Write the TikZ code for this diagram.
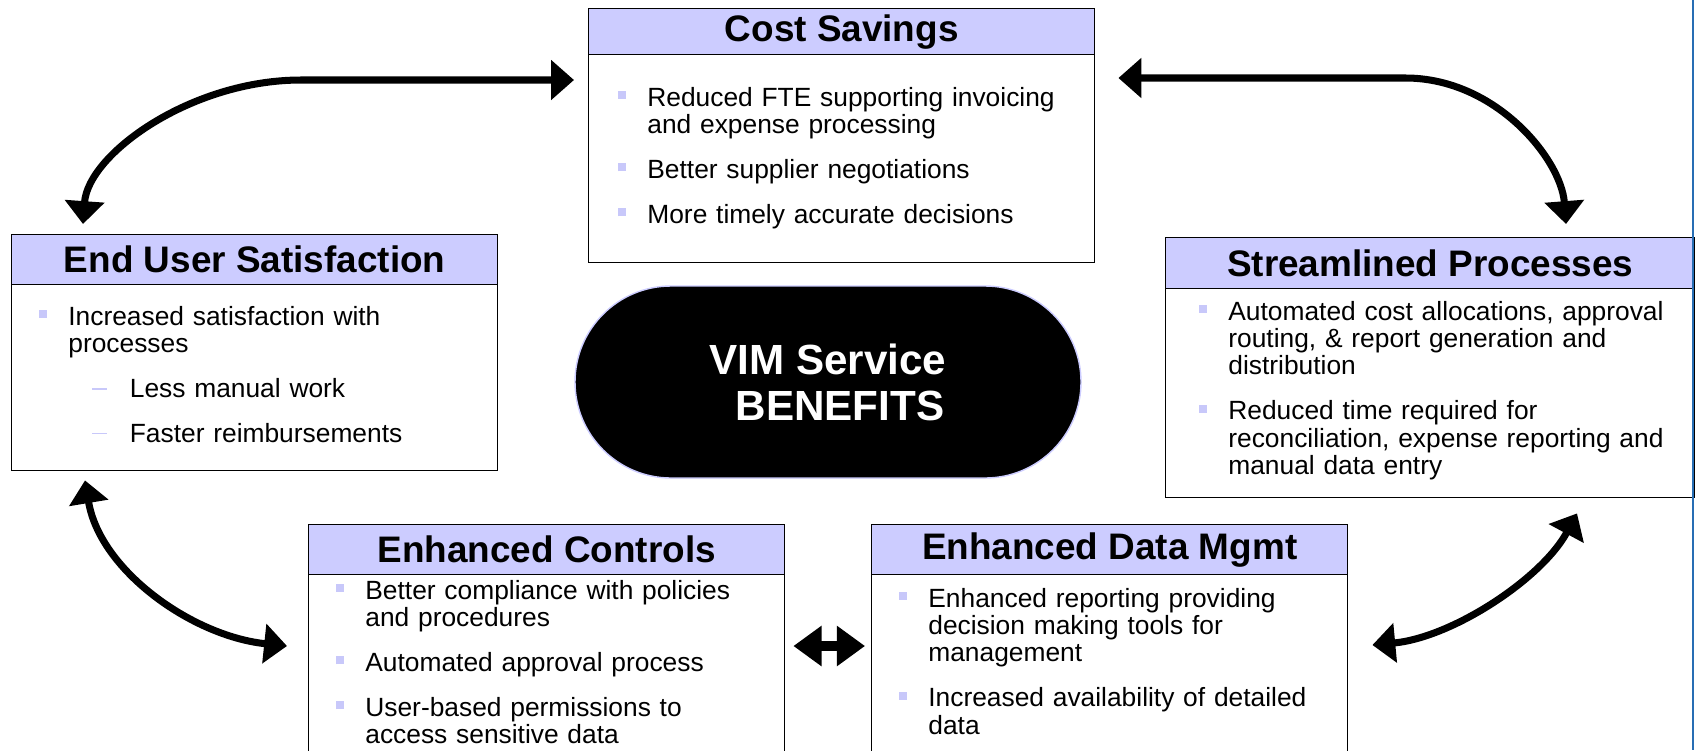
\documentclass[tikz,border=0pt]{standalone}
\usepackage{fontspec}
\setmainfont{Liberation Sans}
\usetikzlibrary{arrows.meta}

\definecolor{headfill}{RGB}{204,204,255}
\definecolor{bulletfill}{RGB}{200,200,250}
\definecolor{edgeblue}{RGB}{40,110,180}

% square bullet and dash hung left of the text column
\newcommand{\bul}{\leavevmode\llap{\textcolor{bulletfill}{\rule[4pt]{4.5pt}{4.5pt}}\hspace{12pt}}}
\newcommand{\dsh}{\leavevmode\llap{\textcolor{bulletfill}{\rule[4.5pt]{8.5pt}{0.9pt}}\hspace{13pt}}}

\begin{document}
\begin{tikzpicture}[
    panel/.style={draw, line width=0.8pt, anchor=north west, inner sep=0pt},
    head/.style={draw, line width=0.8pt, fill=headfill, anchor=north west, inner sep=0pt,
                 font=\fontsize{21}{24}\selectfont\bfseries},
    points/.style={anchor=base west, align=left, inner sep=0pt, text width=#1,
                   font=\fontsize{15}{15.6}\selectfont},
    points/.default=10cm,
    bigarrow/.style={line width=4pt, {Triangle[length=13pt,width=22pt]}-{Triangle[length=13pt,width=22pt]}},
    midarrow/.style={line width=6pt, {Triangle[length=16pt,width=22pt]}-{Triangle[length=16pt,width=22pt]}}
]

    \useasboundingbox (0,0) rectangle (33.90,-15.00);

    % the five panels
    \node[panel, minimum width=10.12cm, minimum height=5.08cm] (cost) at (11.76,-0.16) {};
    \node[head, minimum width=10.12cm, minimum height=0.92cm] (costhead) at (cost.north west) {Cost Savings};

    \node[panel, minimum width=9.72cm, minimum height=4.72cm] (user) at (0.22,-4.68) {};
    \node[head, minimum width=9.72cm, minimum height=1.00cm] (userhead) at (user.north west) {End User Satisfaction};

    \node[panel, minimum width=10.58cm, minimum height=5.20cm] (stream) at (23.30,-4.74) {};
    \node[head, minimum width=10.58cm, minimum height=1.02cm] (streamhead) at (stream.north west) {Streamlined Processes};

    \node[panel, minimum width=9.52cm, minimum height=4.60cm] (ctrl) at (6.16,-10.48) {};
    \node[head, minimum width=9.52cm, minimum height=1.00cm] (ctrlhead) at (ctrl.north west) {Enhanced Controls};

    \node[panel, minimum width=9.52cm, minimum height=4.60cm] (data) at (17.42,-10.48) {};
    \node[head, minimum width=9.52cm, minimum height=1.00cm] (datahead) at (data.north west) {Enhanced Data Mgmt};

    % bullet text
    \node[points] (costtext) at ([shift={(1.18,-1.96)}]cost.north west)
        {\bul Reduced FTE supporting invoicing\\ and expense processing\\[10pt]
         \bul Better supplier negotiations\\[10pt]
         \bul More timely accurate decisions};

    \node[points] (usertext) at ([shift={(1.14,-1.82)}]user.north west)
        {\bul Increased satisfaction with\\ processes\\[10pt]
         \hspace*{35pt}\dsh Less manual work\\[10pt]
         \hspace*{35pt}\dsh Faster reimbursements};

    \node[points] (streamtext) at ([shift={(1.26,-1.66)}]stream.north west)
        {\bul Automated cost allocations, approval\\ routing, \& report generation and\\ distribution\\[10pt]
         \bul Reduced time required for\\ reconciliation, expense reporting and\\ manual data entry};

    \node[points] (ctrltext) at ([shift={(1.14,-1.50)}]ctrl.north west)
        {\bul Better compliance with policies\\ and procedures\\[10pt]
         \bul Automated approval process\\[10pt]
         \bul User-based permissions to\\ access sensitive data};

    \node[points] (datatext) at ([shift={(1.14,-1.66)}]data.north west)
        {\bul Enhanced reporting providing\\ decision making tools for\\ management\\[10pt]
         \bul Increased availability of detailed\\ data};

    % centre badge
    \node[draw=headfill, line width=0.8pt, fill=black, text=white, rounded corners=1.92cm,
          minimum width=10.12cm, minimum height=3.84cm, align=center,
          font=\fontsize{24}{26.2}\selectfont\bfseries] (vim) at (16.56,-7.64)
        {VIM Service\\ \hspace*{13.6pt}BENEFITS};

    % arrows round the cycle
    \draw[bigarrow] ([shift={(-0.28,-1.44)}]cost.north west) -- ++(-5.46,0)
        .. controls +(-2.2,0) and +(0.1,1.4) .. ([shift={(1.44,0.20)}]user.north west);
    \draw[bigarrow] ([shift={(0.46,-1.40)}]cost.north east) -- ++(5.74,0)
        .. controls +(1.8,0) and +(-0.1,1.3) .. ([shift={(8.02,0.26)}]stream.north west);
    \draw[bigarrow] ([shift={(1.48,-0.18)}]user.south west)
        .. controls +(0.3,-1.8) and +(-1.9,0.2) .. ([shift={(-0.42,-2.44)}]ctrl.north west);
    \draw[bigarrow] ([shift={(0.48,-2.42)}]data.north east)
        .. controls +(1.6,0.15) and +(-0.7,-1.3) .. ([shift={(8.24,-0.30)}]stream.south west);
    \draw[midarrow] ([shift={(0.16,-2.44)}]ctrl.north east) -- ([shift={(-0.12,-2.44)}]data.north west);

    % frame edge on the right
    \draw[edgeblue, line width=1pt] (33.86,0) -- (33.86,-15.00);

\end{tikzpicture}
\end{document}
